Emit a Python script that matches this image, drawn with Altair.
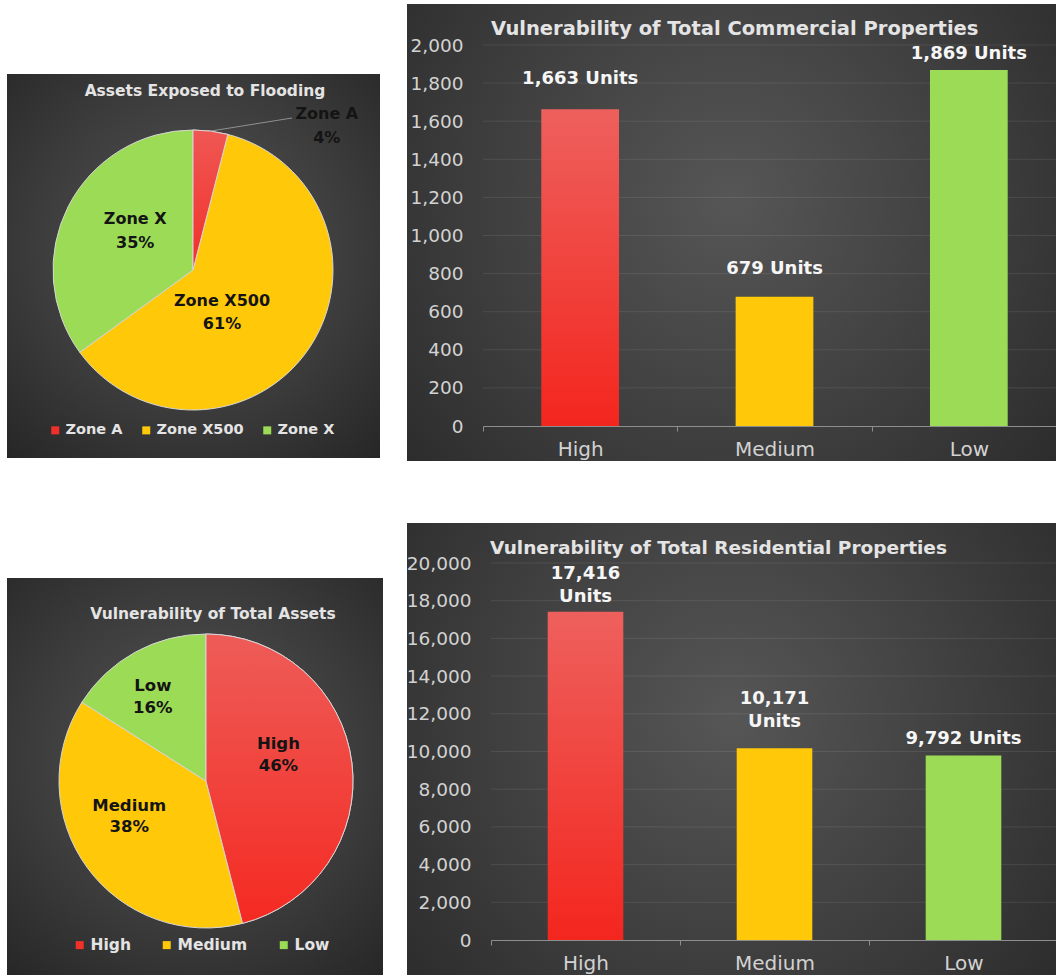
import altair as alt
import pandas as pd

# ---------------- data ----------------
flood_zones = ["Zone A", "Zone X500", "Zone X"]
flood_share = [4, 61, 35]

asset_levels = ["High", "Medium", "Low"]
asset_share = [46, 38, 16]

levels = ["High", "Medium", "Low"]
commercial_units = [1663, 679, 1869]
commercial_text = ["1,663 Units", "679 Units", "1,869 Units"]
residential_units = [17416, 10171, 9792]
residential_text = ["17,416\nUnits", "10,171\nUnits", "9,792 Units"]

commercial_ticks = [0, 200, 400, 600, 800, 1000, 1200, 1400, 1600, 1800, 2000]
residential_ticks = [0, 2000, 4000, 6000, 8000, 10000, 12000, 14000, 16000, 18000, 20000]

# ---------------- style ----------------
W, H = 1056, 975
FONT = "DejaVu Sans"
RED, YELLOW, GREEN = "#F2302A", "#FFC90A", "#9BDB55"
PALETTE = [RED, YELLOW, GREEN]
TITLE_C = "#e4e4e4"
AXIS_C = "#d2d2d2"
VALUE_C = "#f6f6f6"
INK = "#141414"


def grad_v(top, bottom):
    return alt.Gradient(
        gradient="linear",
        stops=[alt.GradientStop(color=top, offset=0), alt.GradientStop(color=bottom, offset=1)],
        x1=0, y1=0, x2=0, y2=1,
    )


def backdrop(x0, y0, x1, y1):
    fill = alt.Gradient(
        gradient="radial",
        stops=[
            alt.GradientStop(color="#565656", offset=0),
            alt.GradientStop(color="#3b3b3b", offset=0.55),
            alt.GradientStop(color="#232323", offset=1),
        ],
        x1=0.5, y1=0.45, r1=0, x2=0.5, y2=0.45, r2=0.78,
    )
    return alt.Chart(pd.DataFrame({"panel": [1]})).mark_rect(fill=fill).encode(
        x=alt.value(x0), x2=alt.value(x1), y=alt.value(y0), y2=alt.value(y1)
    )


def heading(text, x, y, size, align="center"):
    return alt.Chart(pd.DataFrame({"t": [text]})).mark_text(
        font=FONT, fontWeight="bold", fontSize=size, color=TITLE_C, align=align, baseline="middle"
    ).encode(x=alt.value(x), y=alt.value(y), text="t:N")


def pie_panel(cats, shares, box, cx, cy, r, title, title_xy, title_size,
              legend_xy, legend_size, legend_gap, label_pos, label_size, red_top, red_bottom):
    df = pd.DataFrame({"cat": cats, "share": shares, "idx": list(range(len(cats)))})
    df["pct"] = [f"{s}%" for s in shares]
    th = alt.Scale(domain=[0, 100])
    colors = alt.Scale(domain=cats, range=PALETTE)
    base = alt.Chart(df)
    center = dict(x=alt.value(cx), y=alt.value(cy))
    arcs = base.mark_arc(outerRadius=r, stroke="#d6d6d6", strokeWidth=1).encode(
        theta=alt.Theta("share:Q", stack=True, scale=th),
        order=alt.Order("idx:Q"),
        color=alt.Color(
            "cat:N", scale=colors,
            legend=alt.Legend(
                orient="none", legendX=legend_xy[0], legendY=legend_xy[1], direction="horizontal",
                title=None, symbolType="square", symbolSize=64, symbolStrokeWidth=0,
                labelFont=FONT, labelFontWeight="bold", labelFontSize=legend_size,
                labelColor=TITLE_C, columnPadding=legend_gap, labelOffset=3, padding=0,
            ),
        ),
        **center,
    )
    spans = base.transform_window(
        cum="sum(share)", sort=[alt.SortField("idx")]
    ).transform_calculate(start="datum.cum - datum.share", mid="datum.cum - datum.share / 2")
    red = spans.transform_filter(alt.datum.cat == cats[0]).mark_arc(
        outerRadius=r, fill=grad_v(red_top, red_bottom), stroke="#d6d6d6", strokeWidth=1
    ).encode(theta=alt.Theta("start:Q", scale=th), theta2="cum:Q", **center)
    layers = [backdrop(*box), arcs, red]
    for cat, (rad, dx, dy, gap) in zip(cats, label_pos):
        sel = spans.transform_filter(alt.datum.cat == cat)
        for field, sgn in (("cat", -1), ("pct", 1)):
            layers.append(
                sel.mark_text(
                    radius=rad, dx=dx, dy=dy + sgn * gap / 2, font=FONT, fontWeight="bold",
                    fontSize=label_size, color=INK, baseline="middle",
                ).encode(theta=alt.Theta("mid:Q", stack=False, scale=th), text=f"{field}:N", **center)
            )
    layers.append(heading(title, title_xy[0], title_xy[1], title_size))
    return layers


def bar_panel(units, texts, ticks, box, x_range, y_range, dy_last, title, title_xy, title_size):
    df = pd.DataFrame({"level": levels, "units": units})
    parts = [t.split("\n") for t in texts]
    df["line0"] = [p[0] for p in parts]
    df["line1"] = [p[1] if len(p) > 1 else "" for p in parts]
    base = alt.Chart(df)
    xs = alt.Scale(domain=levels, range=x_range, paddingInner=0, paddingOuter=0)
    ys = alt.Scale(domain=[ticks[0], ticks[-1]], range=y_range, nice=False, zero=True)
    x_axis = alt.Axis(
        orient="bottom", offset=y_range[0] - H, tickBand="extent",
        domainColor="#8e8e8e", domainWidth=1, tickColor="#8e8e8e", tickSize=5, tickWidth=1,
        labelFont=FONT, labelFontSize=20, labelColor=AXIS_C, labelPadding=8, labelAngle=0,
        grid=False, title=None, zindex=1,
    )
    y_axis = alt.Axis(
        orient="left", offset=-x_range[0], values=ticks, format=",.0f", domain=False, ticks=False,
        grid=False, labelFont=FONT, labelFontSize=18.5, labelColor=AXIS_C, labelPadding=20,
        labelOverlap=False, title=None, zindex=1,
    )
    # gridlines drawn as rules: above the panel backdrop, below the bars; this layer carries the axes
    grid = alt.Chart(pd.DataFrame({"tick": ticks[1:]})).mark_rule(
        color="#ffffff", opacity=0.09, strokeWidth=1
    ).encode(
        x=alt.XDatum(levels[0], type="nominal", bandPosition=0, scale=xs, axis=x_axis),
        x2=alt.X2Datum(levels[-1], bandPosition=1),
        y=alt.Y("tick:Q", scale=ys, axis=y_axis),
    )
    layers = [backdrop(*box), grid]
    for i, lvl in enumerate(levels):
        fill = grad_v("#EE605D", "#F3261E") if i == 0 else PALETTE[i]
        layers.append(
            base.transform_filter(alt.datum.level == lvl).mark_bar(
                fill=fill, width=alt.RelativeBandSize(0.4)
            ).encode(
                x=alt.X("level:N", scale=xs, axis=None),
                y=alt.Y("units:Q", scale=ys, axis=None),
            )
        )
    for i, lvl in enumerate(levels):
        n = len(parts[i])
        for j in range(n):
            layers.append(
                base.transform_filter(alt.datum.level == lvl).mark_text(
                    font=FONT, fontWeight="bold", fontSize=18, color=VALUE_C, baseline="middle",
                    dy=dy_last[i] - (n - 1 - j) * 23,
                ).encode(
                    x=alt.X("level:N", scale=xs, axis=None),
                    y=alt.Y("units:Q", scale=ys, axis=None),
                    text=f"line{j}:N",
                )
            )
    layers.append(heading(title, title_xy[0], title_xy[1], title_size, align="left"))
    return layers


# ---------------- panels ----------------
p1_layers = pie_panel(
    flood_zones, flood_share, (7, 74, 380, 458), 193, 270, 140,
    "Assets Exposed to Flooding", (205, 91), 15.5,
    (48, 423), 14.5, 16,
    [(150, 115, 5, 24), (52, -14, 13, 23), (66, 1, -9, 24)], 16,
    "#EF5753", "#F2302A",
)
leader = alt.Chart(pd.DataFrame({"a": [1]})).mark_rule(color="#a4a4a4", strokeWidth=0.8).encode(
    x=alt.value(211), y=alt.value(131), x2=alt.value(292), y2=alt.value(118)
)
p1_layers.insert(3, leader)

p2_layers = bar_panel(
    commercial_units, commercial_text, commercial_ticks, (407, 4, 1056, 461),
    [483, 1066], [426, 45], [-30, -28, -16],
    "Vulnerability of Total Commercial Properties", (491, 29), 19.5,
)

p3_layers = pie_panel(
    asset_levels, asset_share, (7, 578, 383, 975), 206, 781, 147,
    "Vulnerability of Total Assets", (213, 614), 15.5,
    (72, 937), 15.5, 28,
    [(75, -2, -17, 22), (85, -8, -14, 21), (100, -5, 4, 22)], 16.5,
    "#EE5C58", "#F42A22",
)

p4_layers = bar_panel(
    residential_units, residential_text, residential_ticks, (407, 523, 1056, 975),
    [491, 1058], [940, 563], [-15, -26, -16],
    "Vulnerability of Total Residential Properties", (490, 548), 18.5,
)

chart = alt.layer(*(p1_layers + p2_layers + p3_layers + p4_layers)).resolve_scale(
    x="independent", y="independent", theta="independent", color="independent"
).resolve_axis(
    x="independent", y="independent"
).resolve_legend(
    color="independent"
).properties(
    width=W, height=H, autosize=alt.AutoSizeParams(type="none"), padding=0, background="white"
).configure_view(stroke="transparent")

chart.save("out.html", embed_options={"renderer": "svg", "actions": False})
